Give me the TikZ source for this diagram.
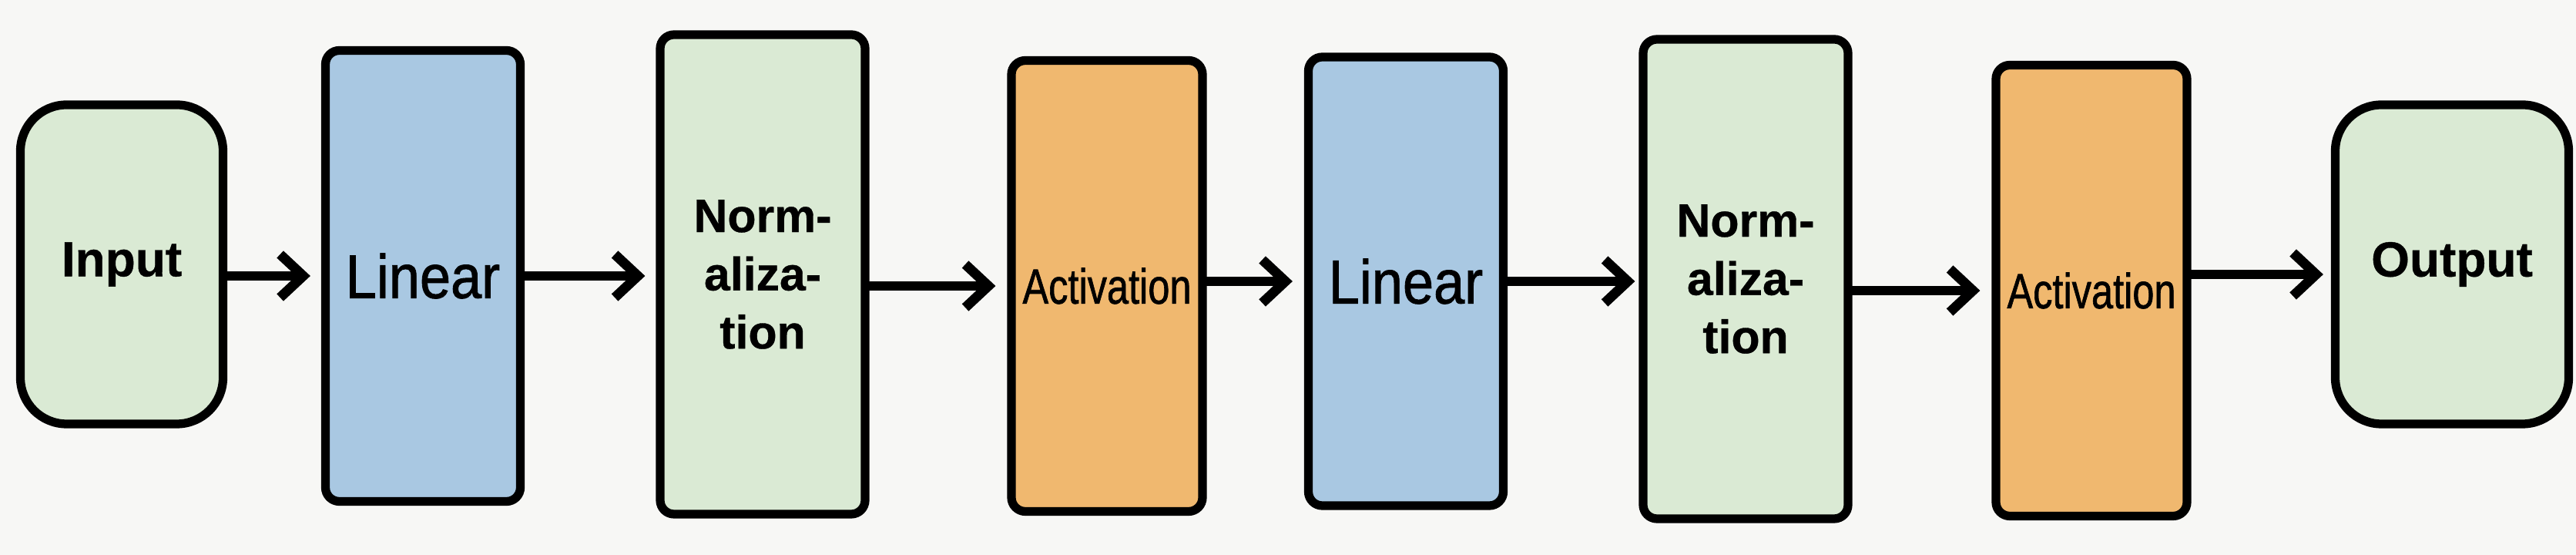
\documentclass[tikz,border=0pt]{standalone}
\usepackage{fontspec}
\setmainfont{Liberation Sans}
\usepackage{graphicx}
\usepackage{xcolor}
\usepackage{tikz}
\usetikzlibrary{arrows.meta}

\definecolor{boxgreen}{RGB}{218,234,212}
\definecolor{boxblue}{RGB}{169,200,226}
\definecolor{boxorange}{RGB}{240,184,111}
\definecolor{bggray}{RGB}{247,247,245}

\begin{document}
\begin{tikzpicture}[line width=3.2pt]
        \tikzset{block/.style={draw=black, rounded corners=0.18cm, inner sep=0pt, minimum width=2.53cm, minimum height=5.85cm},
                 io/.style={draw=black, fill=boxgreen, rounded corners=0.6cm, inner sep=0pt, minimum height=4.14cm, font=\bfseries\addfontfeature{FakeBold=0.6}\fontsize{18.2}{22}\selectfont},
                 lin/.style={block, fill=boxblue, font=\addfontfeature{FakeBold=1.2}\fontsize{22.8}{27}\selectfont},
                 norm/.style={block, fill=boxgreen, minimum width=2.66cm, minimum height=6.22cm, align=center, font=\bfseries\addfontfeature{FakeBold=0.6}\fontsize{17.3}{21.5}\selectfont},
                 act/.style={block, fill=boxorange, minimum width=2.48cm, font=\addfontfeature{FakeBold=1.2}\fontsize{18.2}{22}\selectfont},
                 arr/.style={line width=3.6pt, line cap=round, line join=round, -{Straight Barb[length=3mm,width=5.6mm]}}}

        \fill[bggray] (0,0) rectangle (33.44,7.2);
        \useasboundingbox (0,0) rectangle (33.44,7.2);

	%---NODES---
        \node[io, minimum width=2.63cm] (1) at (1.58,3.77) {Input};
        \node[lin, minimum height=5.85cm] (2) at (5.49,3.62) {\scalebox{0.9}[1]{Linear}};
        \node[norm] (3) at (9.90,3.64) {Norm-\\aliza-\\tion};
        \node[act] (4) at (14.37,3.49) {\scalebox{0.79}[1]{Activation}};
        \node[lin, minimum height=5.82cm] (5) at (18.25,3.55) {\scalebox{0.9}[1]{Linear}};
        \node[norm] (6) at (22.66,3.58) {Norm-\\aliza-\\tion};
        \node[act] (7) at (27.15,3.43) {\scalebox{0.79}[1]{Activation}};
        \node[io, minimum width=3.03cm] (8) at (31.83,3.77) {Output};

	%---EDGES---
        \draw[arr] (1.east |- 2.west) -- ([xshift=-0.14cm]2.west);
        \draw[arr] (2.east) -- ([xshift=-0.14cm]2.east -| 3.west);
        \draw[arr] (3.east |- 4.west) -- ([xshift=-0.15cm]4.west);
        \draw[arr] (4.east |- 5.west) -- ([xshift=-0.15cm]5.west);
        \draw[arr] (5.east) -- ([xshift=-0.05cm]5.east -| 6.west);
        \draw[arr] (6.east |- 7.west) -- ([xshift=-0.15cm]7.west);
        \draw[arr] ([yshift=-0.13cm]7.east |- 8.west) -- ([xshift=-0.1cm,yshift=-0.13cm]8.west);

    \end{tikzpicture}
\end{document}
